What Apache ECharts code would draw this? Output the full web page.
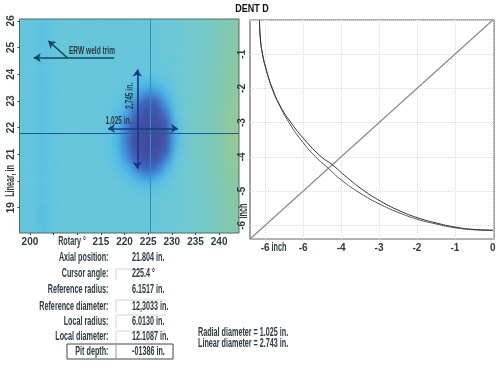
<!DOCTYPE html>
<html>
<head>
<meta charset="utf-8">
<style>
  html, body { margin: 0; padding: 0; background: #fff; }
  #heat-clip { position: absolute; left: 20px; top: 19px; width: 219px; height: 214px; overflow: hidden; }
  #heat { position: absolute; left: -6px; top: -6px; width: 231px; height: 226px; filter: blur(3px); }
  #main { position: absolute; left: 0; top: 0; width: 500px; height: 369px; }
</style>
</head>
<body>
<div id="heat-clip"><div id="heat"></div></div>
<div id="main"></div>
<script src="https://cdn.jsdelivr.net/npm/echarts@6/dist/echarts.min.js"></script>
<script>
  // surface colour level per cell, top row first
  var heatRows = [
    [50,48,47,43,47,50,51,51,50,50,50,50,50,50,50,51,51,52,52,54,56,58,60,62,65,70,73,75],
    [50,48,47,42,47,50,51,51,50,50,50,50,50,50,50,51,51,52,52,54,56,58,60,62,66,70,74,76],
    [50,48,47,42,47,50,51,51,50,50,50,50,50,50,50,51,51,52,52,54,56,58,60,62,66,70,74,76],
    [50,48,47,42,47,50,51,51,50,50,50,50,50,50,50,51,51,52,52,54,56,58,60,63,66,71,75,77],
    [50,48,47,42,47,50,51,51,50,50,50,50,50,50,50,50,50,51,52,54,56,58,60,63,67,71,75,78],
    [50,48,47,42,47,50,51,51,50,50,50,50,50,50,50,49,49,50,51,53,56,58,60,63,67,72,76,79],
    [50,48,47,42,47,50,51,51,50,50,50,50,50,50,48,46,45,47,50,53,56,58,61,64,68,72,77,80],
    [50,48,47,42,47,50,51,51,50,50,50,50,50,48,44,38,35,39,45,52,56,59,61,64,68,73,78,81],
    [50,48,47,42,47,50,51,51,50,50,50,50,48,44,36,27,22,27,37,49,56,59,62,65,69,74,80,83],
    [50,48,47,42,47,50,51,51,50,50,50,49,46,39,27,15,11,15,28,46,55,59,62,65,69,75,81,85],
    [50,48,47,42,47,50,51,51,50,50,50,48,43,32,18, 8, 6, 8,20,42,55,60,63,66,70,76,83,87],
    [50,48,47,42,47,50,51,51,50,50,50,47,40,26,11, 5, 3, 4,12,38,54,60,63,66,70,76,84,88],
    [50,48,47,42,47,50,51,51,50,50,50,46,37,21, 7, 3, 2, 3, 8,33,53,60,63,66,70,76,84,88],
    [50,48,47,42,47,50,51,51,50,50,50,45,36,20, 6, 3, 1, 2, 7,32,53,60,63,66,70,76,84,88],
    [50,48,47,42,47,50,51,51,50,50,50,46,37,22, 8, 4, 2, 4,10,36,54,60,63,66,70,76,83,87],
    [50,48,47,42,47,50,51,51,50,50,50,47,41,28,14, 7, 5, 8,20,43,55,60,62,65,70,75,82,85],
    [50,48,47,42,47,50,51,51,50,50,50,49,44,36,24,14,12,17,33,49,56,59,62,65,69,74,80,83],
    [50,48,47,42,47,50,51,51,50,50,50,50,48,44,36,28,26,33,44,52,56,59,61,64,68,73,78,81],
    [50,48,47,42,47,50,51,51,50,50,50,50,50,48,45,42,41,45,49,53,56,58,61,64,68,72,77,80],
    [50,48,47,42,47,50,51,51,50,50,50,50,50,50,50,50,50,51,52,54,56,58,60,63,67,71,76,78],
    [50,48,47,41,47,50,51,51,50,50,50,50,50,50,50,51,51,52,52,54,56,58,60,63,66,71,75,77],
    [50,48,47,41,47,50,51,51,50,50,50,50,50,50,50,51,51,52,52,54,56,58,60,62,66,70,74,76],
    [50,48,47,41,47,50,51,51,50,50,50,50,50,50,50,51,51,52,52,54,56,58,60,62,65,70,73,75],
    [50,48,47,41,47,50,51,51,50,50,50,50,50,50,50,51,51,52,52,54,56,58,60,62,65,69,73,75]
  ];
  var heatColors = ['#3f479a', '#3f5cb6', '#3f8cdc', '#48b6e8', '#60c3e0', '#6ec8d4', '#7cc8b8', '#8ac8a0', '#9cc890'];

  var rotaryTicks = [200, 205, 210, 215, 220, 225, 230, 235, 240];
  var rotaryLabels = [200, 215, 220, 225, 230, 235, 240];
  var linearTicks = [19, 20, 21, 22, 23, 24, 25, 26];
  var linearLabels = [19, 21, 22, 23, 24, 25, 26];

  var inchTicks = [-6, -5, -4, -3, -2, -1, 0];
  var inchXLabels = ['-6', '-6', '-4', '-3', '-2', '-1', '0'];
  var inchYLabels = ['-6', '-5', '-4', '-3', '-2', '-1', ''];

  var diagonal = [[-6.4, -6.4], [0, 0]];
  var referenceCurve = [[-6.15, 0], [-6.13, -0.5], [-6.07, -1], [-5.96, -1.5], [-5.82, -2], [-5.62, -2.5], [-5.37, -3], [-5.06, -3.5], [-4.67, -4], [-4.34, -4.33], [-4, -4.67], [-3.5, -5.06], [-3, -5.37], [-2.5, -5.62], [-2, -5.82], [-1.5, -5.96], [-1, -6.07], [-0.5, -6.13], [0, -6.15]];
  var localCurve = [[-6.15, 0], [-6.13, -0.5], [-6.07, -1], [-5.96, -1.5], [-5.81, -2], [-5.61, -2.5], [-5.32, -3], [-4.96, -3.5], [-4.52, -4], [-4.24, -4.22], [-3.9, -4.55], [-3.42, -4.97], [-2.95, -5.3], [-2.47, -5.57], [-1.98, -5.78], [-1.5, -5.93], [-1, -6.05], [-0.5, -6.12], [0, -6.14]];

  var crossRotary = 225.4;
  var crossLinear = 21.804;
  var weldTrimLine = [[200.8, 24.62], [217.8, 24.62]];
  var weldTrimPointer = [[207.9, 24.62], [203.9, 25.25]];
  var radialArrow = [[216.5, 21.97], [231.3, 21.97]];
  var linearArrow = [[222.7, 20.46], [222.7, 24.18]];

  var tableLabels = ['Axial position:', 'Cursor angle:', 'Reference radius:', 'Reference diameter:', 'Local radius:', 'Local diameter:', 'Pit depth:'];
  var tableValues = ['21.804 in.', '225.4 °', '6.1517 in.', '12,3033 in.', '6.0130 in.', '12.1087 in.', '-01386 in.'];
  var tableRowsY = [258, 274, 290, 307, 322, 337, 352];

  var labelFont = '"Liberation Sans", sans-serif';
  var inkColor = '#2e3a40';
  var narrow = 0.6;

  function labelText(x, y, text, opts) {
    opts = opts || {};
    return {
      type: 'text', x: x, y: y, rotation: opts.rotate ? Math.PI / 2 : 0,
      scaleX: opts.scale || narrow,
      style: {
        text: text,
        fill: opts.fill || inkColor,
        font: 'bold ' + (opts.size || 12) + 'px ' + labelFont,
        align: opts.align || 'center',
        verticalAlign: 'middle'
      }
    };
  }

  function boxLine(x1, y1, x2, y2, color) {
    return {
      type: 'line',
      shape: { x1: x1, y1: y1, x2: x2, y2: y2 },
      style: { stroke: color || '#d4d4d4', lineWidth: 1 }
    };
  }

  function annotation(points, color, width, arrows) {
    return {
      type: 'line', xAxisIndex: 0, yAxisIndex: 0, data: [], silent: true,
      markLine: {
        silent: true, animation: false,
        symbol: arrows, symbolSize: 7,
        label: { show: false },
        lineStyle: { color: color, width: width, type: 'solid' },
        data: [[{ coord: points[0] }, { coord: points[1] }]]
      }
    };
  }

  // heatmap sits in its own chart so the css blur smooths the cells
  var heatData = [];
  heatRows.forEach(function (row, r) {
    row.forEach(function (v, c) {
      heatData.push([c, heatRows.length - 1 - r, v]);
    });
  });

  var heatChart = echarts.init(document.getElementById('heat'));
  heatChart.setOption({
    animation: false,
    grid: { left: 0, right: 0, top: 0, bottom: 0 },
    xAxis: { type: 'category', show: false, data: heatRows[0].map(function (v, i) { return i; }) },
    yAxis: { type: 'category', show: false, data: heatRows.map(function (v, i) { return i; }) },
    visualMap: { show: false, min: 0, max: 90, dimension: 2, inRange: { color: heatColors } },
    series: [{ type: 'heatmap', data: heatData }]
  });

  var mainChart = echarts.init(document.getElementById('main'));

  var tickLabelStyle = { fontFamily: labelFont, fontWeight: 'bold', fontSize: 10, color: inkColor };

  var graphics = [
    labelText(252, 9, 'DENT D', { size: 10, scale: 0.9, fill: '#111' }),
    labelText(72, 242, 'Rotary °'),
    labelText(11, 181, 'Linear, in', { rotate: true }),
    labelText(279, 248, 'inch'),
    labelText(244, 211, 'inch', { rotate: true }),
    labelText(92, 51, 'ERW weld trim', { size: 11 }),
    labelText(118.5, 121, '1,025 in.', { size: 11 }),
    labelText(130, 96, '2,745 in.', { size: 11, rotate: true }),
    labelText(198, 333, 'Radial diameter = 1.025 in.', { align: 'left' }),
    labelText(198, 344, 'Linear diameter = 2.743 in.', { align: 'left' }),
    boxLine(116, 269, 157, 269), boxLine(116, 269, 116, 280),
    boxLine(116, 300, 166, 300), boxLine(116, 300, 116, 313),
    boxLine(116, 315, 166, 315), boxLine(116, 315, 116, 329),
    boxLine(116, 331, 166, 331), boxLine(116, 331, 116, 343),
    { type: 'rect', shape: { x: 67, y: 344, width: 106, height: 15 }, style: { fill: 'none', stroke: '#444', lineWidth: 1 } },
    boxLine(116, 344, 116, 359, '#999')
  ];
  tableLabels.forEach(function (t, i) {
    graphics.push(labelText(108.5, tableRowsY[i], t, { align: 'right' }));
    graphics.push(labelText(132, tableRowsY[i], tableValues[i], { align: 'left' }));
  });

  mainChart.setOption({
    animation: false,
    backgroundColor: 'transparent',
    grid: [
      { left: 19.5, top: 19, width: 219.5, height: 214, show: true, borderColor: '#4d6a66', borderWidth: 1, backgroundColor: 'transparent' },
      { left: 250, top: 20, width: 244, height: 219, show: true, borderColor: '#666', borderWidth: 1.2, backgroundColor: 'transparent' }
    ],
    xAxis: [
      {
        type: 'value', gridIndex: 0, min: 197.8, max: 244.2,
        splitLine: { show: false },
        axisLine: { show: false },
        axisTick: { length: 2, customValues: rotaryTicks, lineStyle: { color: '#444' } },
        axisLabel: Object.assign({ customValues: rotaryLabels, margin: 4 }, tickLabelStyle)
      },
      {
        type: 'value', gridIndex: 1, min: -6.4, max: 0.03,
        axisLine: { show: false },
        axisTick: { show: false, customValues: inchTicks },
        splitLine: { show: true, lineStyle: { color: '#dedede', width: 1, type: 'dotted' } },
        axisLabel: Object.assign({
          customValues: inchTicks, margin: 4,
          formatter: function (v) { return inchXLabels[inchTicks.indexOf(v)]; }
        }, tickLabelStyle)
      }
    ],
    yAxis: [
      {
        type: 'value', gridIndex: 0, min: 18.05, max: 26.07,
        splitLine: { show: false },
        axisLine: { show: false },
        axisTick: { length: 2, customValues: linearTicks, lineStyle: { color: '#444' } },
        axisLabel: Object.assign({ customValues: linearLabels, margin: 3, rotate: 90 }, tickLabelStyle)
      },
      {
        type: 'value', gridIndex: 1, min: -6.4, max: 0,
        axisLine: { show: false },
        axisTick: { show: false, customValues: inchTicks },
        splitLine: { show: true, lineStyle: { color: '#dedede', width: 1, type: 'dotted' } },
        axisLabel: Object.assign({
          customValues: inchTicks, margin: 3, rotate: 90,
          formatter: function (v) { return inchYLabels[inchTicks.indexOf(v)]; }
        }, tickLabelStyle)
      }
    ],
    graphic: graphics,
    series: [
      annotation([[crossRotary, 18.05], [crossRotary, 26.07]], '#2f8fb4', 1, ['none', 'none']),
      annotation([[197.8, crossLinear], [244.2, crossLinear]], '#1f5a96', 1.2, ['none', 'none']),
      annotation(weldTrimLine, '#0f4a5e', 1.5, ['arrow', 'none']),
      annotation(weldTrimPointer, '#0f4a5e', 1.5, ['none', 'arrow']),
      annotation(radialArrow, '#123f7e', 1.6, ['arrow', 'arrow']),
      annotation(linearArrow, '#1c3488', 1.6, ['arrow', 'arrow']),
      { type: 'line', xAxisIndex: 1, yAxisIndex: 1, data: diagonal, symbol: 'none', lineStyle: { color: '#8a8a8a', width: 1.2 } },
      { type: 'line', xAxisIndex: 1, yAxisIndex: 1, data: referenceCurve, symbol: 'none', smooth: true, lineStyle: { color: '#555', width: 1 } },
      { type: 'line', xAxisIndex: 1, yAxisIndex: 1, data: localCurve, symbol: 'none', smooth: true, lineStyle: { color: '#333', width: 1 } }
    ]
  });
</script>
</body>
</html>
